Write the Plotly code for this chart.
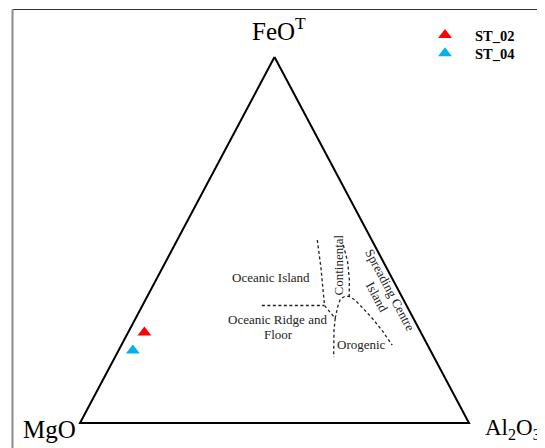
import plotly.graph_objects as go

# ---------------- data (ternary compositions, %) ----------------
samples = ["ST_02", "ST_04"]
sample_feo = [24.7, 19.8]
sample_mgo = [71.1, 76.6]
sample_al2o3 = [4.2, 3.7]
sample_colors = ["#FF0000", "#00B0F0"]

# triangle outline (FeOT apex, Al2O3 right, MgO left)
tri_feo = [100, 0, 0, 100]
tri_mgo = [0, 0, 100, 0]
tri_al2o3 = [0, 100, 0, 0]

# field boundaries (Pearce et al., 1977)
oi_feo = [50.0, 42.3, 32.1, 28.6, 25.4, 18.0]
oi_mgo = [14.0, 16.9, 21.1, 20.1, 22.0, 25.8]
oi_al2o3 = [36.0, 40.8, 46.8, 51.3, 52.6, 56.2]

ridge_feo = [32.1, 32.1]
ridge_mgo = [37.2, 21.1]
ridge_al2o3 = [30.7, 46.8]

oro_feo = [28.6, 32.0, 33.9, 34.6, 34.6, 33.6, 31.4, 28.7, 25.4, 21.3]
oro_mgo = [20.1, 17.7, 16.1, 14.6, 13.5, 12.5, 11.6, 10.6, 9.7, 9.1]
oro_al2o3 = [51.3, 50.3, 50.0, 50.8, 51.9, 53.9, 57.0, 60.7, 64.9, 69.6]

cont_feo = [48.6, 44.0, 39.1, 34.6]
cont_mgo = [8.0, 9.2, 11.2, 13.5]
cont_al2o3 = [43.4, 46.8, 49.7, 51.9]

# ---------------- helpers ----------------
WIN_W, WIN_H = 545, 448
OFF = 8                      # default page body margin
W, H = WIN_W - OFF, WIN_H - OFF
X0, XW = 80.0, 389.0    # window pixel x of MgO vertex, base width
Y0, YH = 423.0, 366.0   # window pixel y of base, triangle height


def to_xy(feo, mgo, al):
    xs, ys = [], []
    for a, m, b in zip(feo, mgo, al):
        s = a + m + b
        xs.append(b / s + a / s / 2)
        ys.append(a / s)
    return xs, ys


def px(xp):
    return (xp - OFF) / W


def py(yp):
    return 1 - (yp - OFF) / H


SERIF = "Liberation Serif, Times New Roman, serif"

fig = go.Figure()

tx, ty = to_xy(tri_feo, tri_mgo, tri_al2o3)
fig.add_trace(go.Scatter(x=tx, y=ty, mode="lines", line=dict(color="black", width=2),
                         showlegend=False, hoverinfo="skip"))

dash = dict(color="#222222", width=1.3, dash="3px,2.5px")
for f, m, a in [(oi_feo, oi_mgo, oi_al2o3), (ridge_feo, ridge_mgo, ridge_al2o3),
                (oro_feo, oro_mgo, oro_al2o3), (cont_feo, cont_mgo, cont_al2o3)]:
    lx, ly = to_xy(f, m, a)
    fig.add_trace(go.Scatter(x=lx, y=ly, mode="lines", line=dash,
                             showlegend=False, hoverinfo="skip"))

legend_ids = ["legend", "legend2"]
for i, name in enumerate(samples):
    sx, sy = to_xy([sample_feo[i]], [sample_mgo[i]], [sample_al2o3[i]])
    fig.add_trace(go.Scatter(x=sx, y=sy, mode="markers", name=name, legend=legend_ids[i],
                             marker=dict(symbol="triangle-up", size=12, color=sample_colors[i])))

ann = []
label_font = dict(family=SERIF, size=13, color="#222222")
for text, x, y, ang in [
    ("Oceanic Island", 270.5, 277.3, 0),
    ("Oceanic Ridge and", 277.8, 319.3, 0),
    ("Floor", 278.8, 334.3, 0),
    ("Continental", 337.5, 265.0, -90),
    ("Orogenic", 361.7, 344.0, 0),
    ("Spreading Centre", 390.7, 290.0, 62),
    ("Island", 376.7, 296.7, 62),
]:
    ann.append(dict(text=text, x=px(x), y=py(y), xref="paper", yref="paper",
                    showarrow=False, textangle=ang, font=label_font,
                    xanchor="center", yanchor="middle"))

vfont = dict(family=SERIF, size=25, color="black")
ann.append(dict(text="FeO<sup>T</sup>", x=px(279), y=py(29), xref="paper", yref="paper",
                showarrow=False, font=vfont, xanchor="center", yanchor="middle"))
ann.append(dict(text="MgO", x=px(49), y=py(429), xref="paper", yref="paper",
                showarrow=False, font=vfont, xanchor="center", yanchor="middle"))
ann.append(dict(text="Al<sub>2</sub>O<sub>3</sub>", x=px(483), y=py(429), xref="paper", yref="paper",
                showarrow=False, font=dict(family=SERIF, size=23, color="black"),
                xanchor="left", yanchor="middle"))

shapes = [
    dict(type="line", xref="paper", yref="paper", x0=px(12.5), y0=py(9.5), x1=1.02, y1=py(9.5),
         line=dict(color="#333333", width=1.2)),
    dict(type="line", xref="paper", yref="paper", x0=px(12.5), y0=py(9.5), x1=px(12.5), y1=-0.02,
         line=dict(color="#8a8a8a", width=2)),
]

leg_font = dict(family=SERIF, size=14.5, color="black", weight="bold")
leg_common = dict(xanchor="left", yanchor="middle", font=leg_font,
                  bgcolor="rgba(0,0,0,0)", itemwidth=50)

fig.update_layout(
    width=W, height=H,
    margin=dict(l=0, r=0, t=0, b=0),
    paper_bgcolor="white", plot_bgcolor="white",
    xaxis=dict(range=[(OFF - X0) / XW, (WIN_W - X0) / XW], visible=False, fixedrange=True),
    yaxis=dict(range=[(Y0 - WIN_H) / YH, (Y0 - OFF) / YH], visible=False, fixedrange=True),
    annotations=ann, shapes=shapes,
    showlegend=True,
    legend=dict(x=px(415), y=py(35), **leg_common),
    legend2=dict(x=px(415), y=py(53.3), **leg_common),
)

fig.write_html("out.html")
